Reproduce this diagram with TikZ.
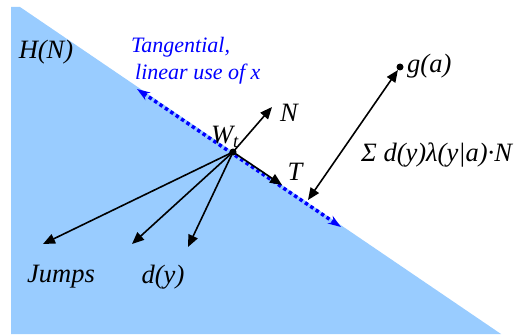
\documentclass[tikz,border=0pt]{standalone}
\usepackage{fontspec}
\setmainfont{Liberation Serif}
\usetikzlibrary{arrows.meta,positioning}
\usepackage{xcolor}
\definecolor{planeBlue}{HTML}{99CCFF}
\definecolor{tangentBlue}{HTML}{0000FF}

\begin{document}
\begin{tikzpicture}[x=1pt,y=-1pt,>={Triangle[length=12pt,width=10pt]}]
\tikzstyle{lab}=[font=\fontsize{26.5}{31}\selectfont\itshape,inner sep=0pt]
\tikzstyle{vec}=[->,line width=1.6pt]
\tikzstyle{dotnode}=[circle,fill=black,inner sep=0pt,minimum size=7pt]
\useasboundingbox (0,0) rectangle (526,334);
% half-plane H(N)
\fill[planeBlue] (11,7) -- (20,7) -- (501,334) -- (11,334) -- cycle;
\node[lab] (hn) at (46,52) {H(N)};
% tangential direction
\coordinate (tanA) at (137,89);
\coordinate (tanB) at (341,227);
\draw[{Stealth[length=13pt,width=9pt]}-{Stealth[length=13pt,width=9pt]},draw=tangentBlue,line width=3.5pt,dash pattern=on 3.5pt off 3pt] (tanA) -- (tanB);
\node[lab,font=\fontsize{22}{27}\selectfont\itshape,text=tangentBlue,anchor=west,align=left] (tang) at (131,61) {Tangential,\\\hspace{4pt}linear use of x};
% point W_t and its vectors
\node[dotnode] (wt) at (233,152) {};
\node[lab] (wtlab) at (225,137) {W\textsubscript{t}};
\coordinate (ntip) at (272,107);
\coordinate (ttip) at (282,185);
\coordinate (j1) at (43,244);
\coordinate (j2) at (132,244);
\coordinate (j3) at (188,247);
\foreach \b in {ntip,ttip,j1,j2,j3}{\draw[vec] (wt.center) -- (\b);}
\node[lab] (nlab) at (289,113) {N};
\node[lab] (tlab) at (295,172) {T};
\node[lab] (jumps) at (61,277) {Jumps};
\node[lab] (dy) at (163,277) {d(y)};
% target g(a)
\node[dotnode] (ga) at (400,67) {};
\node[lab,anchor=west] (galab) at (407,66) {g(a)};
\coordinate (sumtip) at (308,200);
\draw[<->,line width=1.6pt] (ga) -- (sumtip);
\node[lab,anchor=west] (sumlab) at (361,155) {Σ d(y)λ(y|a)·N};
\end{tikzpicture}
\end{document}
